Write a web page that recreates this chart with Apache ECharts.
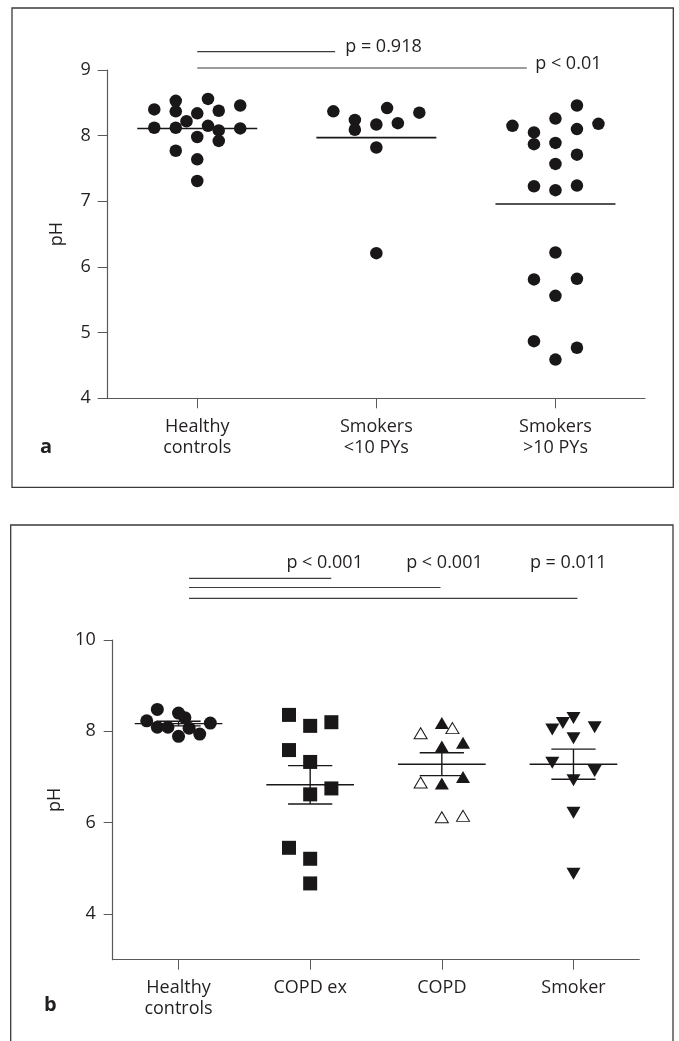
<!DOCTYPE html>
<html><head><meta charset="utf-8">
<script src="https://cdn.jsdelivr.net/npm/echarts@6/dist/echarts.min.js"></script>
<style>html,body{margin:0;padding:0;background:#fff}#c{width:679px;height:1041px}</style>
</head><body><div id="c"></div>
<script>
// ---------- Panel a data ----------
const catsA = ['Healthy\ncontrols', 'Smokers\n<10 PYs', 'Smokers\n>10 PYs'];
const yTicksA = [4, 5, 6, 7, 8, 9];
// [beeswarm slot, pH]
const healthyA = [[-4,8.40],[-4,8.12],[-2,8.53],[-2,8.37],[-2,8.12],[-2,7.77],[-1,8.22],[0,8.34],[0,7.98],[0,7.64],[0,7.31],[1,8.56],[1,8.15],[2,8.38],[2,8.08],[2,7.92],[4,8.46],[4,8.11]];
const smokersLowA = [[-4,8.37],[-2,8.24],[-2,8.09],[0,8.17],[0,7.82],[0,6.21],[1,8.42],[2,8.19],[4,8.35]];
const smokersHighA = [[-4,8.15],[-2,8.05],[-2,7.87],[-2,7.23],[-2,5.81],[-2,4.87],[0,8.26],[0,7.89],[0,7.57],[0,7.17],[0,6.22],[0,5.56],[0,4.59],[2,8.46],[2,8.10],[2,7.71],[2,7.24],[2,5.82],[2,4.77],[4,8.18]];
const meansA = [8.11, 7.97, 6.96];
const compsA = [[0, 1, 'p = 0.918'], [0, 2, 'p < 0.01']];

// ---------- Panel b data ----------
const catsB = ['Healthy\ncontrols', 'COPD ex', 'COPD', 'Smoker'];
const yTicksB = [4, 6, 8, 10];
const healthyB = [[-2,8.48],[-3,8.23],[0,8.40],[0.6,8.30],[-2,8.09],[-1,8.09],[0,7.89],[1,8.07],[2,7.94],[3,8.18]];
const copdExB = [[-2,8.36],[0,8.12],[2,8.20],[-2,7.59],[0,7.33],[2,6.75],[0,6.62],[-2,5.45],[0,5.21],[0,4.67]];
const copdFilledB = [[0,8.18],[0,7.67],[2,7.75],[0,6.86],[2,7.00]];
const copdOpenB = [[1,8.07],[-2,7.96],[-2,6.88],[0,6.12],[2,6.15]];
const smokerB = [[0,8.29],[-1,8.18],[-2,8.04],[2,8.09],[0,7.85],[-2,7.31],[2,7.13],[0,6.93],[0,6.22],[0,4.88]];
const meansB = [8.17, 6.83, 7.28, 7.28];
const semB = [0.05, 0.42, 0.25, 0.33];
const compsB = [[0, 1, 'p < 0.001'], [0, 2, 'p < 0.001'], [0, 3, 'p = 0.011']];

// ---------- layout / style constants ----------
const FONT = '"Open Sans", "DejaVu Sans", sans-serif';
const TXT = '#231f20';
const AX = '#58595b';
const INK = '#1a1718';
const slotA = 0.06, slotB = 0.0805;
const annA = { x0: 0, ends: [0.77, 1.84], levels: [9.28, 9.03], labelX: [0.826, 1.887], labelY: [9.355, 9.10] };
const annB = { x0: 0.08, ends: [1.16, 1.99, 3.03], levels: [11.35, 11.15, 10.91], labelX: [1.11, 2.02, 2.96], labelY: [11.69, 11.69, 11.69] };

const chart = echarts.init(document.getElementById('c'), null, { renderer: 'canvas' });

function place(arr, gi, slot) { return arr.map(d => [gi + d[0] * slot, d[1]]); }

function xAxisCfg(gridIndex, cats) {
  const idx = cats.map((c, i) => i);
  return {
    type: 'value', gridIndex, min: -0.5, max: cats.length - 0.5,
    splitLine: { show: false },
    axisLine: { show: true, onZero: false, lineStyle: { color: AX, width: 1.2 } },
    axisTick: { show: true, customValues: idx, length: 10, lineStyle: { color: AX, width: 1 } },
    axisLabel: { customValues: idx, formatter: v => cats[Math.round(v)], color: TXT, fontFamily: FONT, fontSize: 18, lineHeight: 21, margin: 18 }
  };
}

const option = {
  animation: false,
  backgroundColor: '#fff',
  textStyle: { fontFamily: FONT },
  grid: [
    { left: 107.7, top: 70, width: 537.3, height: 328.3 },
    { left: 112.7, top: 640, width: 526.6, height: 319.7 }
  ],
  xAxis: [xAxisCfg(0, catsA), xAxisCfg(1, catsB)],
  yAxis: [
    {
      type: 'value', gridIndex: 0, min: yTicksA[0], max: yTicksA[yTicksA.length - 1], interval: 1,
      name: 'pH', nameLocation: 'middle', nameRotate: 90, nameGap: 42,
      nameTextStyle: { color: TXT, fontFamily: FONT, fontSize: 18 },
      splitLine: { show: false },
      axisLine: { show: true, onZero: false, lineStyle: { color: AX, width: 1.2 } },
      axisTick: { show: true, length: 10, lineStyle: { color: AX, width: 1 } },
      axisLabel: { color: TXT, fontFamily: FONT, fontSize: 18, margin: 17 }
    },
    {
      type: 'value', gridIndex: 1, min: 3, max: 10,
      name: 'pH', nameLocation: 'middle', nameRotate: 90, nameGap: 46,
      nameTextStyle: { color: TXT, fontFamily: FONT, fontSize: 18 },
      splitLine: { show: false },
      axisLine: { show: true, onZero: false, lineStyle: { color: AX, width: 1.2 } },
      axisTick: { show: true, length: 9, customValues: yTicksB, lineStyle: { color: AX, width: 1 } },
      axisLabel: { customValues: yTicksB, color: TXT, fontFamily: FONT, fontSize: 18, margin: 17 }
    }
  ],
  graphic: [
    { type: 'rect', shape: { x: 12, y: 8, width: 661.3, height: 479.3 }, style: { fill: 'none', stroke: '#3a3a3a', lineWidth: 1.3 }, silent: true },
    { type: 'polyline', shape: { points: [[10.7, 1045], [10.7, 525], [673, 525], [673, 1045]] }, style: { fill: 'none', stroke: '#3a3a3a', lineWidth: 1.3 }, silent: true },
    { type: 'text', left: 40, top: 437, style: { text: 'a', fill: TXT, font: 'bold 20px ' + FONT } },
    { type: 'text', left: 44, top: 995, style: { text: 'b', fill: TXT, font: 'bold 20px ' + FONT } }
  ],
  series: [
    // Panel a points
    ...[healthyA, smokersLowA, smokersHighA].map((arr, gi) => ({
      type: 'scatter', xAxisIndex: 0, yAxisIndex: 0, symbol: 'circle', symbolSize: 12.5,
      itemStyle: { color: INK, opacity: 1 }, data: place(arr, gi, slotA), z: 3
    })),
    // Panel a mean lines
    {
      type: 'custom', xAxisIndex: 0, yAxisIndex: 0, z: 2,
      data: meansA.map((m, i) => [i, m]),
      renderItem: (params, api) => {
        const i = api.value(0), m = api.value(1);
        const a = api.coord([i - 0.335, m]), b = api.coord([i + 0.335, m]);
        return { type: 'line', shape: { x1: a[0], y1: a[1], x2: b[0], y2: b[1] }, style: { stroke: INK, lineWidth: 1.6 } };
      }
    },
    // Panel a p-value annotations
    {
      type: 'custom', xAxisIndex: 0, yAxisIndex: 0, clip: false, z: 2,
      data: compsA.map((c, k) => [c[0], annA.levels[k]]),
      renderItem: (params, api) => {
        const k = params.dataIndex;
        const a = api.coord([annA.x0, annA.levels[k]]), b = api.coord([annA.ends[k], annA.levels[k]]);
        const t = api.coord([annA.labelX[k], annA.labelY[k]]);
        return { type: 'group', children: [
          { type: 'line', shape: { x1: a[0], y1: a[1], x2: b[0], y2: b[1] }, style: { stroke: '#3c3c3c', lineWidth: 1.1 } },
          { type: 'text', style: { text: compsA[k][2], x: t[0], y: t[1], fill: TXT, fontFamily: FONT, fontSize: 18, align: 'left', verticalAlign: 'middle' } }
        ] };
      }
    },
    // Panel b points
    {
      type: 'scatter', xAxisIndex: 1, yAxisIndex: 1, symbol: 'circle', symbolSize: 13,
      itemStyle: { color: INK, opacity: 1 }, data: place(healthyB, 0, slotB), z: 3
    },
    {
      type: 'scatter', xAxisIndex: 1, yAxisIndex: 1, symbol: 'rect', symbolSize: 14,
      itemStyle: { color: INK, opacity: 1 }, data: place(copdExB, 1, slotB), z: 3
    },
    {
      type: 'scatter', xAxisIndex: 1, yAxisIndex: 1, symbol: 'triangle', symbolSize: [14, 12],
      itemStyle: { color: INK, opacity: 1 }, data: place(copdFilledB, 2, slotB), z: 3
    },
    {
      type: 'scatter', xAxisIndex: 1, yAxisIndex: 1, symbol: 'triangle', symbolSize: [13, 11],
      itemStyle: { color: '#fff', borderColor: INK, borderWidth: 1, opacity: 1 }, data: place(copdOpenB, 2, slotB), z: 3
    },
    {
      type: 'scatter', xAxisIndex: 1, yAxisIndex: 1, symbol: 'triangle', symbolRotate: 180, symbolSize: [14, 12],
      itemStyle: { color: INK, opacity: 1 }, data: place(smokerB, 3, slotB), z: 3
    },
    // Panel b mean ± SEM
    {
      type: 'custom', xAxisIndex: 1, yAxisIndex: 1, z: 4,
      data: meansB.map((m, i) => [i, m, semB[i]]),
      renderItem: (params, api) => {
        const i = api.value(0), m = api.value(1), s = api.value(2);
        const L = (x1, y1, x2, y2) => {
          const a = api.coord([x1, y1]), b = api.coord([x2, y2]);
          return { type: 'line', shape: { x1: a[0], y1: a[1], x2: b[0], y2: b[1] }, style: { stroke: INK, lineWidth: 1.4 } };
        };
        return { type: 'group', children: [
          L(i - 0.333, m, i + 0.333, m),
          L(i - 0.168, m + s, i + 0.168, m + s),
          L(i - 0.168, m - s, i + 0.168, m - s),
          L(i, m - s, i, m + s)
        ] };
      }
    },
    // Panel b p-value annotations
    {
      type: 'custom', xAxisIndex: 1, yAxisIndex: 1, clip: false, z: 2,
      data: compsB.map((c, k) => [c[0], annB.levels[k]]),
      renderItem: (params, api) => {
        const k = params.dataIndex;
        const a = api.coord([annB.x0, annB.levels[k]]), b = api.coord([annB.ends[k], annB.levels[k]]);
        const t = api.coord([annB.labelX[k], annB.labelY[k]]);
        return { type: 'group', children: [
          { type: 'line', shape: { x1: a[0], y1: a[1], x2: b[0], y2: b[1] }, style: { stroke: '#3c3c3c', lineWidth: 1.2 } },
          { type: 'text', style: { text: compsB[k][2], x: t[0], y: t[1], fill: TXT, fontFamily: FONT, fontSize: 18, align: 'center', verticalAlign: 'middle' } }
        ] };
      }
    }
  ]
};
chart.setOption(option);
</script>
</body></html>
